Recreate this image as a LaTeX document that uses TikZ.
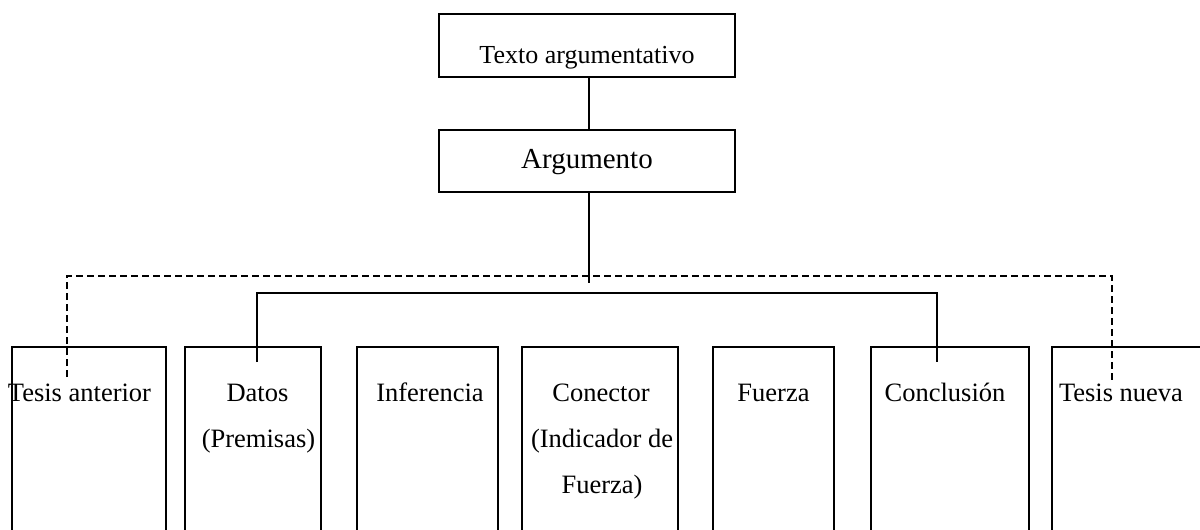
\documentclass[tikz,border=0pt]{standalone}
\usepackage{fontspec}
\setmainfont{Liberation Serif}
\begin{document}
\begin{tikzpicture}[x=1pt,y=-1pt,
  box/.style={draw, line width=2pt, rectangle, inner sep=0pt, outer sep=0pt},
  lbl/.style={anchor=base, inner sep=0pt, font=\fontsize{26.5}{32}\selectfont},
  conn/.style={line width=1.5pt},
  dconn/.style={line width=1.5pt, dash pattern=on 7pt off 4pt}]
\useasboundingbox (0,0) rectangle (1200,530);
\clip (0,0) rectangle (1200,530);
% top boxes
\node[box, minimum width=296pt, minimum height=63pt] (top) at (587,45.5) {};
\node[lbl, font=\fontsize{26}{32}\selectfont] (ttop) at (587,63) {Texto argumentativo};
\node[box, minimum width=296pt, minimum height=62pt] (arg) at (587,161) {};
\node[lbl, font=\fontsize{29}{34}\selectfont] (targ) at (587,168) {Argumento};
% bottom boxes (open below the picture's edge)
\node[box, minimum width=154pt, minimum height=213pt] (b1) at (89,453.5) {};
\node[box, minimum width=136pt, minimum height=213pt] (b2) at (253,453.5) {};
\node[box, minimum width=141pt, minimum height=213pt] (b3) at (427.5,453.5) {};
\node[box, minimum width=156pt, minimum height=213pt] (b4) at (600,453.5) {};
\node[box, minimum width=121pt, minimum height=213pt] (b5) at (773.5,453.5) {};
\node[box, minimum width=158pt, minimum height=213pt] (b6) at (950,453.5) {};
\node[box, minimum width=163pt, minimum height=213pt] (b7) at (1133.5,453.5) {};
% labels
\node[lbl] (l1) at (79.5,401) {Tesis anterior};
\node[lbl] (l2a) at (257.5,401) {Datos};
\node[lbl] (l2b) at (258.5,447) {(Premisas)};
\node[lbl] (l3) at (430,401) {Inferencia};
\node[lbl] (l4a) at (601,401) {Conector};
\node[lbl] (l4b) at (602,447) {(Indicador de};
\node[lbl] (l4c) at (602,493) {Fuerza)};
\node[lbl] (l5) at (773.5,401) {Fuerza};
\node[lbl] (l6) at (945,401) {Conclusión};
\node[lbl] (l7) at (1121,401) {Tesis nueva};
% connector coordinates
\coordinate (hub) at (589,283);
\coordinate (dL) at (67,377);
\coordinate (dR) at (1112,382);
\coordinate (sL) at (257,362);
\coordinate (sR) at (937,362);
% connectors
\draw[conn] (top.south -| hub) -- (arg.north -| hub);
\draw[conn] (arg.south -| hub) -- (hub);
\draw[dconn] (dL) -- (67,276) -- (1112,276) -- (dR);
\draw[conn] (sL) -- (257,293) -- (937,293) -- (sR);
\end{tikzpicture}
\end{document}
